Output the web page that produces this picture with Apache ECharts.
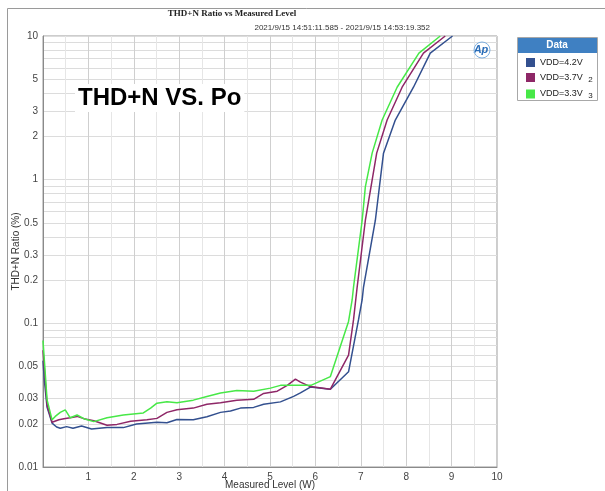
<!DOCTYPE html>
<html>
<head>
    <meta charset="utf-8">
    <title>THD+N vs Po</title>
    <script src="https://cdn.jsdelivr.net/npm/echarts@6/dist/echarts.min.js"></script>
    <style>
        html, body { margin: 0; padding: 0; background: #fff; }
    </style>
</head>
<body>
    <div id='main' style='width: 605px;height:491px;'></div>
    <script>
        // values (x in W, y in %)
        var seriesNames = ['VDD=4.2V', 'VDD=3.7V', 'VDD=3.3V'];
        var legendSuffix = ['', '2', '3'];
        var seriesColors = ['#33508f', '#8e2767', '#47e847'];

        var x42 = [0, 0.03, 0.09, 0.2, 0.3, 0.38, 0.52, 0.66, 0.85, 1.07, 1.41, 1.77, 2.06, 2.51, 2.73, 2.95, 3.31, 3.61, 3.91, 4.13, 4.35, 4.64, 4.86, 5.23, 5.52, 5.67, 5.89, 6.33, 6.73, 6.95, 7.03, 7.06, 7.32, 7.5, 7.76, 8.16, 8.53, 9.02];
        var y42 = [0.055, 0.04, 0.026, 0.0202, 0.019, 0.0186, 0.0191, 0.0186, 0.0193, 0.0184, 0.0188, 0.0188, 0.0199, 0.0205, 0.0203, 0.0214, 0.0213, 0.0224, 0.024, 0.0245, 0.0257, 0.026, 0.0273, 0.0284, 0.031, 0.0328, 0.036, 0.0348, 0.046, 0.106, 0.146, 0.179, 0.52, 1.53, 2.6, 4.4, 7.6, 10];

        var x37 = [0, 0.09, 0.2, 0.35, 0.46, 0.6, 0.75, 0.9, 1.12, 1.41, 1.63, 1.93, 2.29, 2.51, 2.73, 2.95, 3.31, 3.61, 3.91, 4.27, 4.64, 4.86, 5.16, 5.38, 5.56, 5.67, 5.89, 6.33, 6.73, 6.84, 6.92, 7.1, 7.35, 7.58, 7.91, 8.38, 8.86];
        var y37 = [0.065, 0.027, 0.0205, 0.0213, 0.0217, 0.022, 0.0225, 0.0217, 0.021, 0.0195, 0.0198, 0.0208, 0.0213, 0.0218, 0.024, 0.025, 0.0257, 0.0273, 0.028, 0.0292, 0.0296, 0.0325, 0.0337, 0.037, 0.0409, 0.039, 0.0363, 0.0348, 0.06, 0.106, 0.179, 0.52, 1.53, 2.6, 4.4, 7.6, 10];

        var x33 = [0, 0.09, 0.2, 0.27, 0.38, 0.49, 0.6, 0.75, 0.9, 1.12, 1.41, 1.77, 2.21, 2.37, 2.51, 2.73, 2.95, 3.31, 3.61, 3.91, 4.27, 4.64, 5.01, 5.23, 5.45, 5.67, 5.9, 6.33, 6.73, 6.81, 6.84, 7.03, 7.1, 7.25, 7.47, 7.8, 8.28, 8.75];
        var y33 = [0.076, 0.0293, 0.0213, 0.0225, 0.024, 0.025, 0.022, 0.023, 0.0217, 0.0207, 0.022, 0.023, 0.0238, 0.0257, 0.0278, 0.0285, 0.028, 0.0292, 0.031, 0.0327, 0.0341, 0.0337, 0.0354, 0.037, 0.037, 0.037, 0.037, 0.0426, 0.103, 0.146, 0.179, 0.52, 0.89, 1.53, 2.6, 4.4, 7.6, 10];

        var yLabels = [0.01, 0.02, 0.03, 0.05, 0.1, 0.2, 0.3, 0.5, 1, 2, 3, 5, 10];
        var yGrid = [0.01, 0.02, 0.03, 0.04, 0.05, 0.06, 0.07, 0.08, 0.09,
                     0.1, 0.2, 0.3, 0.4, 0.5, 0.6, 0.7, 0.8, 0.9,
                     1, 2, 3, 4, 5, 6, 7, 8, 9, 10];

        function toPairs(xs, ys) {
            return xs.map(function (v, i) { return [v, Math.log10(ys[i])]; });
        }
        function fmtLog(v) {
            return String(Number(Math.pow(10, v).toPrecision(3)));
        }

        var allX = [x42, x37, x33];
        var allY = [y42, y37, y33];

        var myChart = echarts.init(document.getElementById('main'));
        myChart.setOption({
            animation: false,
            backgroundColor: '#fff',
            textStyle: { fontFamily: 'Liberation Sans' },
            grid: {
                left: 43, right: 108, top: 36, bottom: 24,
                outerBoundsMode: 'none', containLabel: false,
                show: true, borderColor: '#9a9a9a', borderWidth: 1
            },
            xAxis: {
                type: 'value', min: 0, max: 10, interval: 1,
                name: 'Measured Level (W)', nameLocation: 'middle', nameGap: 13,
                nameMoveOverlap: false,
                nameTextStyle: { fontSize: 10, color: '#333' },
                axisLine: { onZero: false, lineStyle: { color: '#8a8a8a' } },
                axisTick: { show: false },
                axisLabel: {
                    fontSize: 10, color: '#444', margin: 5,
                    formatter: function (v) { return v === 0 ? '' : String(v); }
                },
                splitLine: { lineStyle: { color: '#cfcfcf' } },
                minorTick: { show: false, splitNumber: 2 },
                minorSplitLine: { show: true, lineStyle: { color: '#e6e6e6' } }
            },
            yAxis: {
                type: 'value', min: -2, max: 1,
                name: 'THD+N Ratio (%)', nameLocation: 'middle', nameGap: 22,
                nameMoveOverlap: false,
                nameTextStyle: { fontSize: 10, color: '#333' },
                axisLine: { show: true, onZero: false, lineStyle: { color: '#8a8a8a' } },
                axisTick: { show: false, customValues: yGrid.map(Math.log10) },
                axisLabel: {
                    fontSize: 10, color: '#444', margin: 5,
                    customValues: yLabels.map(Math.log10),
                    formatter: fmtLog
                },
                splitLine: { lineStyle: { color: '#dcdcdc' } }
            },
            legend: {
                orient: 'vertical', left: 521, top: 53,
                itemWidth: 9, itemHeight: 9, itemGap: 6,
                icon: 'rect',
                data: seriesNames,
                textStyle: {
                    fontSize: 9, color: '#222',
                    rich: { s: { fontSize: 8, color: '#222', padding: [4, 0, 0, 3] } }
                },
                formatter: function (name) {
                    var s = legendSuffix[seriesNames.indexOf(name)];
                    return s ? name + ' {s|' + s + '}' : name;
                }
            },
            series: seriesNames.map(function (n, i) {
                return {
                    name: n, type: 'line', showSymbol: false, symbol: 'none',
                    data: toPairs(allX[i], allY[i]),
                    lineStyle: { width: 1.5, color: seriesColors[i] },
                    itemStyle: { color: seriesColors[i] },
                    z: 3 + i
                };
            }),
            graphic: [
                { type: 'rect', shape: { x: 7.5, y: 8.5, width: 620, height: 500 },
                  style: { fill: 'none', stroke: '#9a9a9a', lineWidth: 1 }, silent: true },
                { type: 'text', x: 232, y: 14,
                  style: { text: 'THD+N Ratio vs Measured Level', fontFamily: 'Liberation Serif',
                           fontSize: 9, fontWeight: 'bold', fill: '#222', align: 'center', verticalAlign: 'middle' } },
                { type: 'text', x: 430, y: 28,
                  style: { text: '2021/9/15 14:51:11.585 - 2021/9/15 14:53:19.352', fontFamily: 'Liberation Sans',
                           fontSize: 8, fill: '#333', align: 'right', verticalAlign: 'middle' } },
                { type: 'text', x: 75, y: 98, z: 20,
                  style: { text: 'THD+N VS. Po', fontFamily: 'Liberation Sans', fontSize: 24, fontWeight: 'bold',
                           fill: '#000', align: 'left', verticalAlign: 'middle',
                           backgroundColor: '#fff', padding: [2, 3] } },
                { type: 'text', x: 481, y: 50, z: 20,
                  style: { text: 'Ap', fontFamily: 'Liberation Sans', fontSize: 11, fontWeight: 'bold',
                           fontStyle: 'italic', fill: '#2a6db8', align: 'center', verticalAlign: 'middle' } },
                { type: 'circle', shape: { cx: 482, cy: 50, r: 8 }, z: 20,
                  style: { fill: 'none', stroke: '#7fb0e0', lineWidth: 1 } },
                { type: 'rect', shape: { x: 517.5, y: 37.5, width: 80, height: 63 }, z: 1,
                  style: { fill: '#fff', stroke: '#a8a8a8', lineWidth: 1 } },
                { type: 'rect', shape: { x: 518, y: 38, width: 79, height: 15 }, z: 2,
                  style: { fill: '#3f80c2' } },
                { type: 'text', x: 557, y: 45.5, z: 3,
                  style: { text: 'Data', fontFamily: 'Liberation Sans', fontSize: 10, fontWeight: 'bold',
                           fill: '#fff', align: 'center', verticalAlign: 'middle' } }
            ]
        });
    </script>
</body>
</html>
